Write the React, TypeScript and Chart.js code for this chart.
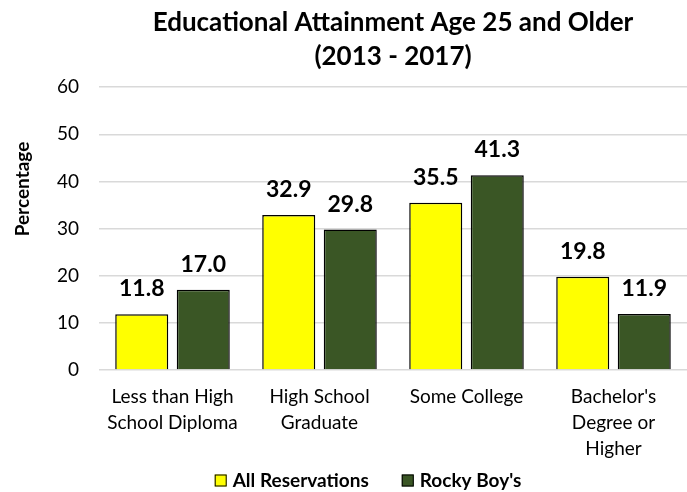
import React, { useEffect, useRef } from "react";
import { Chart, registerables } from "chart.js";

Chart.register(...registerables);

const categories: string[][] = [
  ["Less than High", "School Diploma"],
  ["High School", "Graduate"],
  ["Some College"],
  ["Bachelor's", "Degree or", "Higher"],
];
const seriesNames = ["All Reservations", "Rocky Boy's"];
const allReservations = [11.8, 32.9, 35.5, 19.8];
const rockyBoys = [17.0, 29.8, 41.3, 11.9];
const seriesColors = ["#FFFF00", "#3A5625"];
const titleLines = ["Educational Attainment Age 25 and Older", "(2013 - 2017)"];
const yAxisTitle = "Percentage";

const FONT = "Lato, 'Noto Sans', sans-serif";

const extrasPlugin = {
  id: "extras",
  afterDatasetsDraw(chart: any) {
    const ctx = chart.ctx;
    ctx.save();
    // data labels
    ctx.font = `bold 23px ${FONT}`;
    ctx.fillStyle = "#000";
    ctx.textAlign = "center";
    ctx.textBaseline = "alphabetic";
    chart.data.datasets.forEach((ds: any, di: number) => {
      const meta = chart.getDatasetMeta(di);
      meta.data.forEach((bar: any, i: number) => {
        const v = ds.data[i] as number;
        ctx.fillText(v.toFixed(1), bar.x, bar.y - 18);
      });
    });
    // y axis title
    ctx.save();
    ctx.font = `bold 19px ${FONT}`;
    ctx.translate(29, 189);
    ctx.rotate(-Math.PI / 2);
    ctx.textAlign = "center";
    ctx.fillText(yAxisTitle, 0, 0);
    ctx.restore();
    // legend
    ctx.font = `bold 19px ${FONT}`;
    ctx.textAlign = "left";
    ctx.textBaseline = "middle";
    const box = 12;
    const boxGap = 6;
    const itemGap = 33;
    const widths = seriesNames.map((n) => ctx.measureText(n).width);
    let total = 0;
    widths.forEach((w, i) => {
      total += box + boxGap + w + (i < widths.length - 1 ? itemGap : 0);
    });
    let x = 368 - total / 2;
    const yMid = 480.5;
    seriesNames.forEach((n, i) => {
      ctx.fillStyle = seriesColors[i];
      ctx.fillRect(x, yMid - box / 2, box, box);
      ctx.strokeStyle = "#000";
      ctx.lineWidth = 1;
      ctx.strokeRect(x + 0.5, yMid - box / 2 + 0.5, box - 1, box - 1);
      ctx.fillStyle = "#000";
      ctx.fillText(n, x + box + boxGap, yMid);
      x += box + boxGap + widths[i] + itemGap;
    });
    ctx.restore();
  },
};

export default function App() {
  const ref = useRef<HTMLCanvasElement | null>(null);
  useEffect(() => {
    document.body.style.margin = "0";
    if (!ref.current) return;
    const chart = new Chart(ref.current, {
      type: "bar",
      data: {
        labels: categories,
        datasets: [
          {
            label: seriesNames[0],
            data: allReservations,
            backgroundColor: seriesColors[0],
            borderColor: "#000",
            borderWidth: 1.5,
            categoryPercentage: 0.837,
            barPercentage: 0.862,
          },
          {
            label: seriesNames[1],
            data: rockyBoys,
            backgroundColor: seriesColors[1],
            borderColor: "#000",
            borderWidth: 1.5,
            categoryPercentage: 0.837,
            barPercentage: 0.862,
          },
        ],
      },
      options: {
        animation: false,
        responsive: true,
        maintainAspectRatio: false,
        layout: { padding: { top: 0, left: 0, right: 0, bottom: 0 } },
        plugins: {
          legend: { display: false },
          tooltip: { enabled: false },
          title: {
            display: true,
            text: titleLines,
            fullSize: false,
            color: "#000",
            font: { family: FONT, size: 26, weight: "bold", lineHeight: 1.31 },
            padding: { top: 6, bottom: 13 },
          },
        },
        scales: {
          x: {
            grid: { display: false, drawTicks: false },
            border: { display: false },
            ticks: {
              color: "#000",
              font: { family: FONT, size: 19, lineHeight: 1.37 },
              padding: 14,
              maxRotation: 0,
              autoSkip: false,
            },
            afterFit(scale: any) {
              scale.height = 122;
            },
          },
          y: {
            min: 0,
            max: 60,
            ticks: {
              stepSize: 10,
              color: "#000",
              font: { family: FONT, size: 19 },
              padding: 20,
            },
            grid: { color: "#D9D9D9", lineWidth: 1.5, drawTicks: false },
            border: { display: false },
            afterFit(scale: any) {
              scale.width = 99;
            },
          },
        },
      },
      plugins: [extrasPlugin],
    });
    return () => chart.destroy();
  }, []);
  return (
    <div style={{ position: "relative", width: 687, height: 492 }}>
      <canvas ref={ref} />
    </div>
  );
}
